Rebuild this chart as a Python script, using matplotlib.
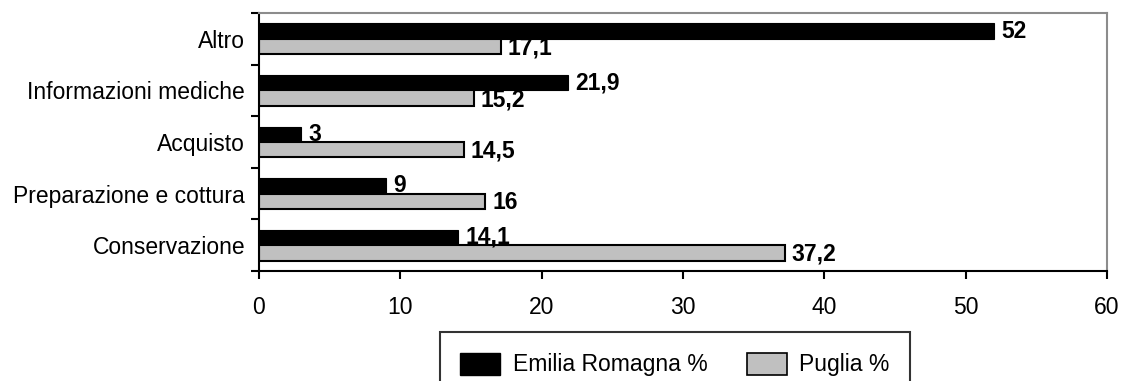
import numpy as np
import matplotlib.pyplot as plt
from matplotlib.patches import Patch

plt.rcParams['font.family'] = ['Liberation Sans', 'DejaVu Sans']

categories = ["Conservazione", "Preparazione e cottura", "Acquisto",
              "Informazioni mediche", "Altro"]
emilia = [14.1, 9, 3, 21.9, 52]
puglia = [37.2, 16, 14.5, 15.2, 17.1]
xticks = [0, 10, 20, 30, 40, 50, 60]

FS = 16.5


def fmt(v):
    s = f"{v:g}"
    return s.replace(".", ",")


fig = plt.figure(figsize=(11.22, 3.81), dpi=100)
ax = fig.add_axes([0.2308, 0.2887, 0.9866 - 0.2308, 0.9659 - 0.2887])

y = np.arange(len(categories))
h = 0.3
ax.barh(y + h / 2, emilia, height=h, color='black', edgecolor='black', linewidth=0.8)
ax.barh(y - h / 2, puglia, height=h, color='#c0c0c0', edgecolor='black', linewidth=1.5)

for yi, v in zip(y, emilia):
    ax.text(v + 0.5, yi + h / 2, fmt(v), va='center', ha='left',
            fontsize=FS, fontweight='bold')
for yi, v in zip(y, puglia):
    ax.text(v + 0.5, yi - h / 2 - 0.03, fmt(v), va='center', ha='left',
            fontsize=FS, fontweight='bold')

ax.set_xlim(0, 60)
ax.set_ylim(-0.5, len(categories) - 0.5)
ax.set_xticks(xticks)
ax.set_xticklabels([str(t) for t in xticks], fontsize=FS)
ax.set_yticks(y)
ax.set_yticklabels(categories, fontsize=FS)
ax.set_yticks(np.arange(-0.5, len(categories)), minor=True)
ax.tick_params(axis='y', which='major', length=0, pad=10)
ax.tick_params(axis='y', which='minor', length=6, width=1.5, direction='out')
ax.tick_params(axis='x', length=6, width=1.5, direction='out', pad=12)

ax.spines['left'].set_linewidth(1.5)
ax.spines['bottom'].set_linewidth(1.5)
for s in ['top', 'right']:
    ax.spines[s].set_color('#8c8c8c')
    ax.spines[s].set_linewidth(1.5)

handles = [Patch(facecolor='black', edgecolor='black', label='Emilia Romagna %'),
           Patch(facecolor='#c0c0c0', edgecolor='black', linewidth=1.2, label='Puglia %')]
leg = fig.legend(handles=handles, loc='upper center', bbox_to_anchor=(0.6016, 0.1286),
                 ncol=2, fontsize=FS, frameon=True, fancybox=False,
                 edgecolor='black', handlelength=1.75, handleheight=1.1,
                 columnspacing=1.7, borderpad=0.9, handletextpad=0.55,
                 borderaxespad=0)
leg.get_frame().set_linewidth(1.5)

fig.savefig("out.png", dpi=100)
